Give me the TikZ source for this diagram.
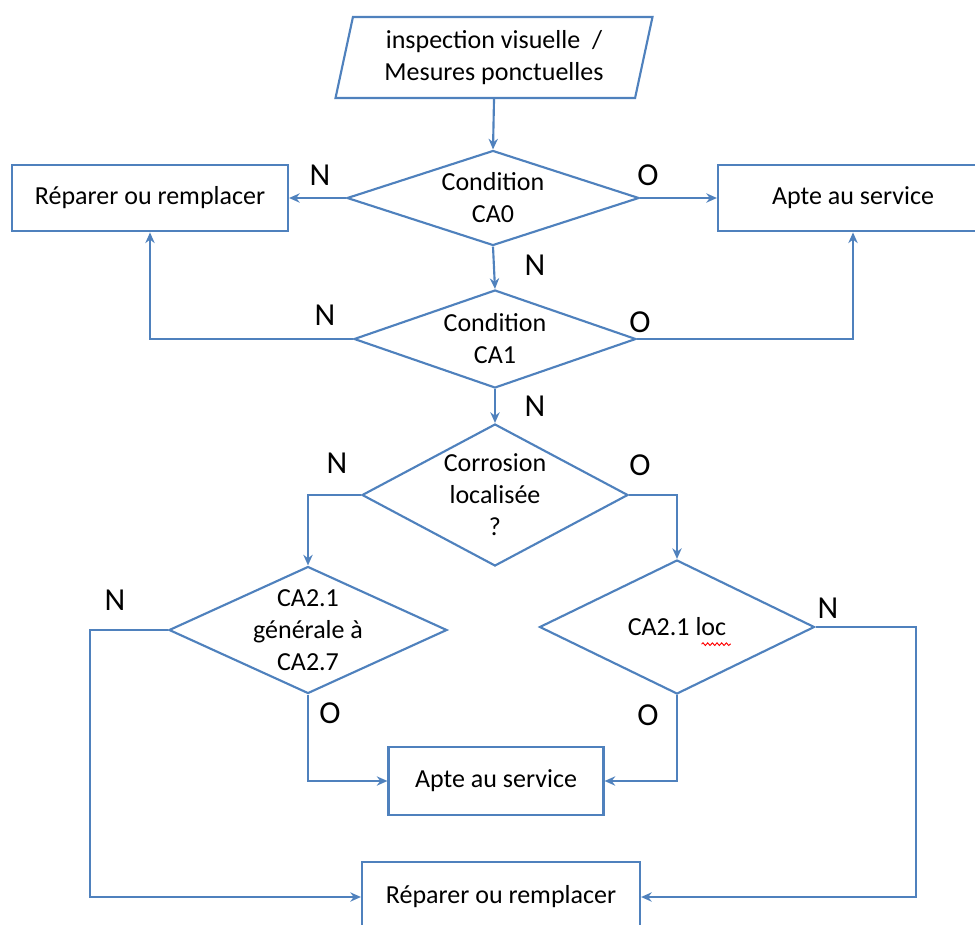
\documentclass[tikz,border=0pt]{standalone}
\usepackage{fontspec}
\setmainfont{Carlito}
\usetikzlibrary{shapes.geometric,arrows.meta,decorations.pathmorphing}
\definecolor{bleu}{RGB}{79,129,189}

\begin{document}
\begin{tikzpicture}[x=0.75pt,y=-0.75pt,
	font=\fontsize{19.5}{24}\selectfont,
	boite/.style={draw=bleu,line width=1.6pt,rectangle,inner sep=0pt,align=center},
	test/.style={draw=bleu,line width=1.6pt,diamond,inner sep=0pt},
	fleche/.style={draw=bleu,line width=1.6pt,-{Stealth[length=8pt,width=7pt]}},
	rep/.style={font=\fontsize{24}{28}\selectfont,inner sep=0pt}]

	\useasboundingbox (0,0) rectangle (975,925);

% Entree
	\node[draw=bleu,line width=1.6pt,trapezium,trapezium left angle=76,trapezium right angle=104,
		trapezium stretches=true,minimum width=237.75pt,minimum height=60.75pt,
		inner sep=0pt,align=center] (insp) at (494,57.5)
		{inspection visuelle~~/\\Mesures ponctuelles};

% Conditions CA0 et CA1
	\node[test,minimum width=219pt,minimum height=71.25pt,
		label={[align=center]center:Condition\\CA0}] (ca0) at (493,198) {};
	\node[test,minimum width=211.5pt,minimum height=73.5pt,
		label={[align=center]center:Condition\\CA1}] (ca1) at (495,339) {};
	\node[boite,minimum width=207pt,minimum height=50pt] (rep1) at (150,198) {Réparer ou remplacer};
	\node[boite,minimum width=202.5pt,minimum height=50pt] (apte1) at (853,198) {Apte au service};

% Corrosion
	\node[test,minimum width=199.5pt,minimum height=106.5pt,
		label={[align=center]center:Corrosion\\localisée\\?}] (cor) at (495,495) {};
	\node[test,minimum width=208.5pt,minimum height=95.25pt,
		label={[align=center]center:CA2.1\\générale à\\CA2.7}] (ca2g) at (308,630) {};
	\node[test,minimum width=206.25pt,minimum height=100.5pt,
		label={[name=loc]center:CA2.1 loc}] (ca2l) at (677,627) {};
	\node[boite,minimum width=161.25pt,minimum height=51pt] (apte2) at (496,781) {Apte au service};
	\node[boite,minimum width=208.5pt,minimum height=52pt] (rep2) at (501,897) {Réparer ou remplacer};

	\coordinate (coinG) at (90,630);
	\coordinate (coinD) at (916,627);

% Fleches
	\draw[fleche] (insp.south) -- (ca0.north);
	\draw[fleche] (ca0.west) -- (rep1.east);
	\draw[fleche] (ca0.east) -- (apte1.west);
	\draw[fleche] (ca0.south) -- (ca1.north);
	\draw[fleche] (ca1.west) -| (rep1.south);
	\draw[fleche] (ca1.east) -| (apte1.south);
	\draw[fleche] (ca1.south) -- (cor.north);
	\draw[fleche] (cor.west) -| (ca2g.north);
	\draw[fleche] (cor.east) -| (ca2l.north);
	\draw[fleche] (ca2g.south) |- (apte2.west);
	\draw[fleche] (ca2l.south) |- (apte2.east);
	\draw[fleche] (ca2g.west) -- (coinG) |- (rep2.west);
	\draw[fleche] (ca2l.east) -- (coinD) |- (rep2.east);

% soulignement rouge sous loc
	\draw[red,line width=0.7pt,decorate,decoration={snake,amplitude=1pt,segment length=3.5pt}]
		([xshift=-22pt,yshift=-2.5pt]loc.south east) -- ([yshift=-2.5pt]loc.south east);

% Reponses
	\node[rep] (n0) at (320,175) {N};
	\node[rep] (o0) at (648,175) {O};
	\node[rep] (n01) at (535,265) {N};
	\node[rep] (n1) at (325,315) {N};
	\node[rep] (o1) at (640,322) {O};
	\node[rep] (n12) at (535,406) {N};
	\node[rep] (nc) at (337,463) {N};
	\node[rep] (oc) at (640,465) {O};
	\node[rep] (ng) at (115,600) {N};
	\node[rep] (og) at (330,713) {O};
	\node[rep] (nl) at (828,608) {N};
	\node[rep] (ol) at (648,715) {O};

\end{tikzpicture}
\end{document}
